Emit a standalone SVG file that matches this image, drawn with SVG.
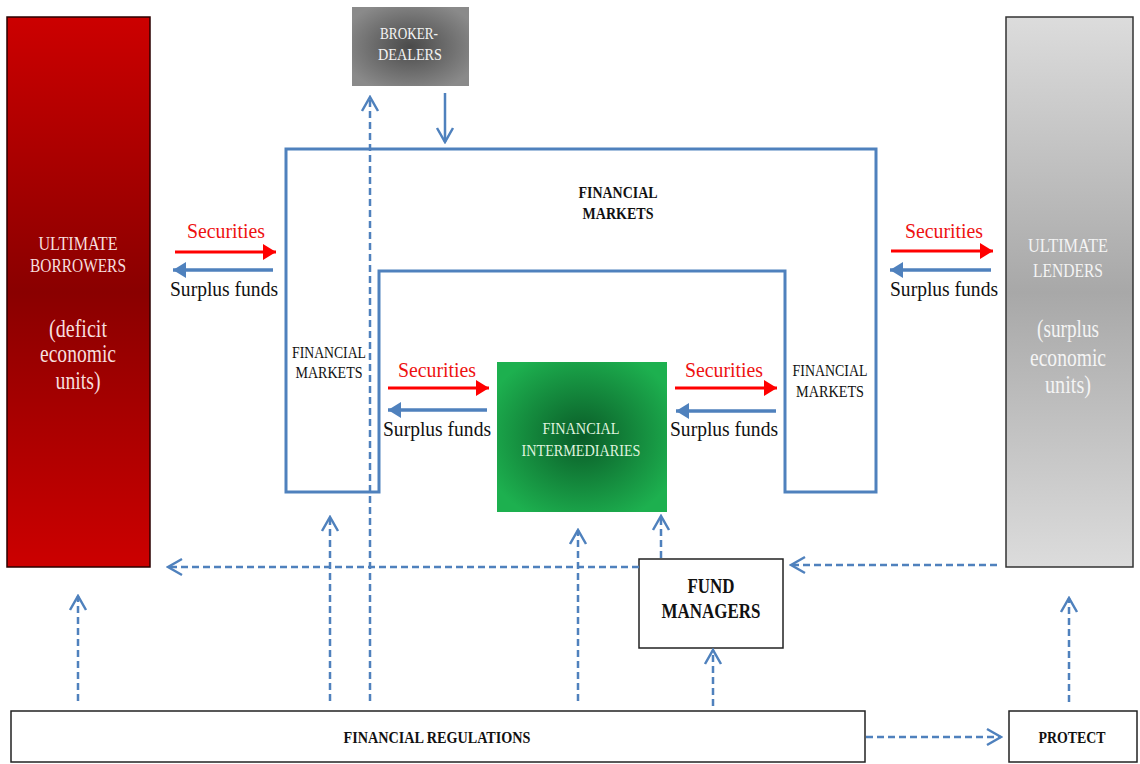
<svg xmlns="http://www.w3.org/2000/svg" width="1140" height="764" viewBox="0 0 1140 764">
<style>
.lbl{font-family:"Liberation Serif","Times New Roman",serif;text-anchor:middle}
.bold{font-weight:bold}
.box{fill:#fff;stroke:#222;stroke-width:1.5}
.fm{fill:none;stroke:#4f81bd;stroke-width:3}
.dash{fill:none;stroke:#4f81bd;stroke-width:2.5;stroke-dasharray:7 4}
.solid{fill:none;stroke:#4f81bd;stroke-width:2.5}
.red{stroke:#ff0000;stroke-width:3;fill:none}
.blue{stroke:#4f81bd;stroke-width:3.5;fill:none}
</style>
<defs>
<linearGradient id="gRed" x1="0" y1="0" x2="0" y2="1">
<stop offset="0" stop-color="#cc0000"/>
<stop offset="0.5" stop-color="#8a0000"/>
<stop offset="1" stop-color="#cc0000"/>
</linearGradient>
<linearGradient id="gGray" x1="0" y1="0" x2="0" y2="1">
<stop offset="0" stop-color="#dcdcdc"/>
<stop offset="0.5" stop-color="#a8a8a8"/>
<stop offset="1" stop-color="#dcdcdc"/>
</linearGradient>
<radialGradient id="gGreen" cx="0.5" cy="0.5" r="0.6">
<stop offset="0" stop-color="#0a5c28"/>
<stop offset="1" stop-color="#1db04f"/>
</radialGradient>
<radialGradient id="gBroker" cx="0.5" cy="0.5" r="0.6">
<stop offset="0" stop-color="#4a4a4a"/>
<stop offset="1" stop-color="#8a8a8a"/>
</radialGradient>
<marker id="open" markerUnits="userSpaceOnUse" viewBox="-17 -10 19 20" refX="0" refY="0" markerWidth="19" markerHeight="20" orient="auto">
<path d="M -14 -8 L 0 0 L -14 8" fill="none" stroke="#4f81bd" stroke-width="2.5"/>
</marker>
<marker id="triR" markerUnits="userSpaceOnUse" viewBox="-14 -9 15 18" refX="0" refY="0" markerWidth="15" markerHeight="18" orient="auto">
<path d="M -13 -8 L 0 0 L -13 8 Z" fill="#ff0000"/>
</marker>
<marker id="triB" markerUnits="userSpaceOnUse" viewBox="-14 -9 15 18" refX="0" refY="0" markerWidth="15" markerHeight="18" orient="auto">
<path d="M -13 -8 L 0 0 L -13 8 Z" fill="#4f81bd"/>
</marker>
</defs>

<g id="ultimate-borrowers">
<rect x="7" y="17" width="143" height="550" fill="url(#gRed)" stroke="#2a0000" stroke-width="1.5"/>
<text class="lbl" font-size="18" fill="#f6dede" x="78" y="250" textLength="79" lengthAdjust="spacingAndGlyphs">ULTIMATE</text>
<text class="lbl" font-size="18" fill="#f6dede" x="78" y="272" textLength="96" lengthAdjust="spacingAndGlyphs">BORROWERS</text>
<text class="lbl" font-size="25" fill="#f6dede" x="78" y="337" textLength="58" lengthAdjust="spacingAndGlyphs">(deficit</text>
<text class="lbl" font-size="25" fill="#f6dede" x="78" y="362" textLength="76" lengthAdjust="spacingAndGlyphs">economic</text>
<text class="lbl" font-size="25" fill="#f6dede" x="78" y="389" textLength="45" lengthAdjust="spacingAndGlyphs">units)</text>
</g>

<g id="broker-dealers">
<rect x="352" y="7" width="117" height="79" fill="url(#gBroker)"/>
<text class="lbl" font-size="17" fill="#f4f4f4" x="409" y="39" textLength="58" lengthAdjust="spacingAndGlyphs">BROKER-</text>
<text class="lbl" font-size="17" fill="#f4f4f4" x="410" y="60" textLength="64" lengthAdjust="spacingAndGlyphs">DEALERS</text>
</g>

<g id="ultimate-lenders">
<rect x="1006" y="17" width="127" height="550" fill="url(#gGray)" stroke="#333" stroke-width="1.5"/>
<text class="lbl" font-size="18" fill="#f4f4f4" x="1068" y="252" textLength="80" lengthAdjust="spacingAndGlyphs">ULTIMATE</text>
<text class="lbl" font-size="18" fill="#f4f4f4" x="1068" y="277" textLength="70" lengthAdjust="spacingAndGlyphs">LENDERS</text>
<text class="lbl" font-size="25" fill="#f4f4f4" x="1068" y="337" textLength="62" lengthAdjust="spacingAndGlyphs">(surplus</text>
<text class="lbl" font-size="25" fill="#f4f4f4" x="1068" y="366" textLength="76" lengthAdjust="spacingAndGlyphs">economic</text>
<text class="lbl" font-size="25" fill="#f4f4f4" x="1068" y="393" textLength="46" lengthAdjust="spacingAndGlyphs">units)</text>
</g>

<g id="financial-markets">
<path class="fm" d="M 286 492 L 286 149 L 876 149 L 876 492 L 785 492 L 785 271 L 379 271 L 379 492 Z"/>
<text class="lbl bold" font-size="17" fill="#111" x="618" y="198" textLength="79" lengthAdjust="spacingAndGlyphs">FINANCIAL</text>
<text class="lbl bold" font-size="17" fill="#111" x="618" y="219" textLength="71" lengthAdjust="spacingAndGlyphs">MARKETS</text>
<text class="lbl" font-size="17" fill="#111" x="329" y="358" textLength="74" lengthAdjust="spacingAndGlyphs">FINANCIAL</text>
<text class="lbl" font-size="17" fill="#111" x="329" y="378" textLength="67" lengthAdjust="spacingAndGlyphs">MARKETS</text>
<text class="lbl" font-size="17" fill="#111" x="830" y="376" textLength="75" lengthAdjust="spacingAndGlyphs">FINANCIAL</text>
<text class="lbl" font-size="17" fill="#111" x="830" y="397" textLength="68" lengthAdjust="spacingAndGlyphs">MARKETS</text>
</g>

<g id="financial-intermediaries">
<rect x="497" y="362" width="170" height="150" fill="url(#gGreen)"/>
<text class="lbl" font-size="16" fill="#dff3df" x="581" y="434" textLength="77" lengthAdjust="spacingAndGlyphs">FINANCIAL</text>
<text class="lbl" font-size="16" fill="#dff3df" x="581" y="456" textLength="119" lengthAdjust="spacingAndGlyphs">INTERMEDIARIES</text>
</g>

<g id="fund-managers">
<rect class="box" x="639" y="559" width="144" height="89"/>
<text class="lbl bold" font-size="21" fill="#111" x="711" y="593" textLength="47" lengthAdjust="spacingAndGlyphs">FUND</text>
<text class="lbl bold" font-size="21" fill="#111" x="711" y="618" textLength="99" lengthAdjust="spacingAndGlyphs">MANAGERS</text>
</g>

<g id="financial-regulations">
<rect class="box" x="11" y="711" width="854" height="51"/>
<text class="lbl bold" font-size="16" fill="#111" x="437" y="743" textLength="187" lengthAdjust="spacingAndGlyphs">FINANCIAL REGULATIONS</text>
</g>

<g id="protect">
<rect class="box" x="1009" y="711" width="128" height="51"/>
<text class="lbl bold" font-size="17" fill="#111" x="1072" y="743" textLength="67" lengthAdjust="spacingAndGlyphs">PROTECT</text>
</g>

<g id="flow-labels">
<text class="lbl" font-size="22" fill="#ee1111" x="226" y="238" textLength="78" lengthAdjust="spacingAndGlyphs">Securities</text>
<text class="lbl" font-size="22" fill="#111" x="224" y="296" textLength="108" lengthAdjust="spacingAndGlyphs">Surplus funds</text>
<text class="lbl" font-size="22" fill="#ee1111" x="944" y="238" textLength="78" lengthAdjust="spacingAndGlyphs">Securities</text>
<text class="lbl" font-size="22" fill="#111" x="944" y="296" textLength="108" lengthAdjust="spacingAndGlyphs">Surplus funds</text>
<text class="lbl" font-size="22" fill="#ee1111" x="437" y="377" textLength="78" lengthAdjust="spacingAndGlyphs">Securities</text>
<text class="lbl" font-size="22" fill="#111" x="437" y="436" textLength="108" lengthAdjust="spacingAndGlyphs">Surplus funds</text>
<text class="lbl" font-size="22" fill="#ee1111" x="724" y="377" textLength="78" lengthAdjust="spacingAndGlyphs">Securities</text>
<text class="lbl" font-size="22" fill="#111" x="724" y="436" textLength="108" lengthAdjust="spacingAndGlyphs">Surplus funds</text>
</g>

<g id="connectors">
<line class="red" x1="175" y1="252" x2="276" y2="252" marker-end="url(#triR)"/>
<line class="blue" x1="273" y1="270" x2="173" y2="270" marker-end="url(#triB)"/>
<line class="red" x1="891" y1="251" x2="993" y2="251" marker-end="url(#triR)"/>
<line class="blue" x1="991" y1="270" x2="890" y2="270" marker-end="url(#triB)"/>
<line class="red" x1="388" y1="388" x2="489" y2="388" marker-end="url(#triR)"/>
<line class="blue" x1="487" y1="410" x2="388" y2="410" marker-end="url(#triB)"/>
<line class="red" x1="675" y1="388" x2="777" y2="388" marker-end="url(#triR)"/>
<line class="blue" x1="776" y1="411" x2="676" y2="411" marker-end="url(#triB)"/>

<line class="dash" x1="370" y1="701" x2="370" y2="97" marker-end="url(#open)"/>
<line class="solid" x1="445" y1="93" x2="445" y2="142" marker-end="url(#open)"/>
<line class="dash" x1="330" y1="701" x2="330" y2="517" marker-end="url(#open)"/>
<line class="dash" x1="78" y1="701" x2="78" y2="596" marker-end="url(#open)"/>
<line class="dash" x1="578" y1="701" x2="578" y2="530" marker-end="url(#open)"/>
<line class="dash" x1="661" y1="558" x2="661" y2="516" marker-end="url(#open)"/>
<line class="dash" x1="639" y1="567" x2="168" y2="567" marker-end="url(#open)"/>
<line class="dash" x1="997" y1="565" x2="791" y2="565" marker-end="url(#open)"/>
<line class="dash" x1="713" y1="706" x2="713" y2="650" marker-end="url(#open)"/>
<line class="dash" x1="1069" y1="702" x2="1069" y2="598" marker-end="url(#open)"/>
<line class="dash" x1="866" y1="737" x2="1001" y2="737" marker-end="url(#open)"/>
</g>
</svg>
